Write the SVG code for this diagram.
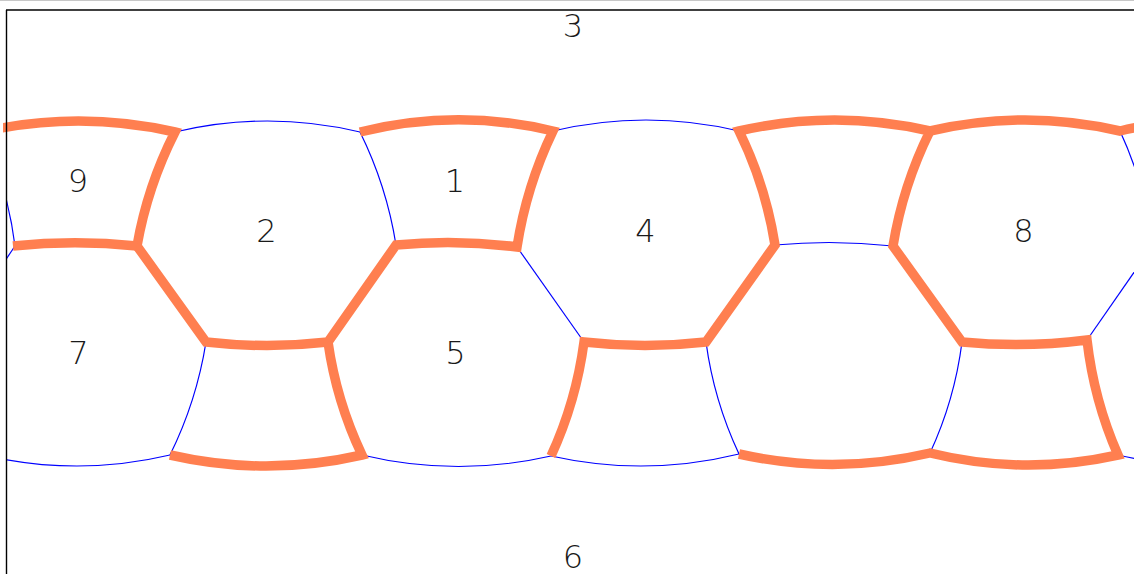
<svg xmlns="http://www.w3.org/2000/svg" width="1134" height="574" viewBox="0 0 1134 574">
<style>
.b{fill:none;stroke:#0000FF;stroke-width:1.2}
.o{fill:none;stroke:#FF7F50;stroke-width:9.5;stroke-linejoin:miter;stroke-linecap:butt}
.lbl{font-family:"DejaVu Sans","Liberation Sans",sans-serif;font-weight:200;font-size:32px;fill:#1a1a1a;text-anchor:middle}
</style>
<defs>
<clipPath id="c7"><rect x="7" y="0" width="1127" height="574"/></clipPath>
<clipPath id="c3"><rect x="3" y="0" width="1131" height="574"/></clipPath>
</defs>
<rect width="1134" height="574" fill="#fff"/>
<line x1="0" y1="0.5" x2="1134" y2="0.5" stroke="#c8c8c8" stroke-width="1"/>
<g id="connectors">
<g id="blue-edges" clip-path="url(#c7)">
<path class="b" d="M175,132 Q267.5,110 360,132"/>
<path class="b" d="M553,131 Q646,109 739,131"/>
<path class="b" d="M-18,132 Q7.5,185.8 15,246"/>
<path class="b" d="M360,132 Q386.6,185.8 396,245"/>
<path class="b" d="M1120,131 Q1145.1,185.3 1153,245"/>
<path class="b" d="M775,245 Q834,239.5 893,246"/>
<path class="b" d="M15,246 L-50,342"/>
<path class="b" d="M517,247 L584,342"/>
<path class="b" d="M1153,245 L1087,340"/>
<path class="b" d="M206,342 Q196.6,401.2 170,455"/>
<path class="b" d="M706,342 Q713.9,400.6 739,454"/>
<path class="b" d="M962,342 Q954.6,400.1 930,453"/>
<path class="b" d="M-16,455 Q77,477 170,455"/>
<path class="b" d="M362,455 Q456.5,477.5 551,456"/>
<path class="b" d="M551,456 Q645,477 739,454"/>
<path class="b" d="M1118,455 Q1211.5,477 1305,455"/>
</g>
<g id="orange-edges-left" clip-path="url(#c3)">
<path class="o" d="M-18,132 Q78.5,110 175,132 Q147.5,186.2 137,246 L206,342 Q267,349 328,342 L396,245 Q456.5,239 517,247 Q526.4,186.3 553,131 Q456.5,108 360,132"/>
</g>
<g id="orange-edges" clip-path="url(#c7)">
<path class="o" d="M13,246 Q75,239.5 137,246"/>
<path class="o" d="M328,342 Q336.4,401.1 362,455 Q266,477 170,455"/>
<path class="o" d="M551,456 Q576.1,401.6 584,342 Q645,349 706,342 L775,245 Q765.6,185.3 739,131 Q834.5,109 930,131 Q902.9,185.7 893,246 L962,342 Q1024.5,348 1087,340 Q1093.9,400.1 1118,455 Q1024,476 930,453 Q834.5,475.5 739,454"/>
<path class="o" d="M930,131 Q1025,109 1120,131 Q1213.5,109 1307,131"/>
</g>
</g>
<g id="frame">
<line x1="6.5" y1="10" x2="6.5" y2="574" stroke="#000" stroke-width="1.4"/>
<line x1="6" y1="10" x2="1134" y2="10" stroke="#000" stroke-width="1.4"/>
</g>
<g id="cell-3"><text class="lbl" x="573" y="36.5">3</text></g>
<g id="cell-6"><text class="lbl" x="573" y="568">6</text></g>
<g id="cell-9"><text class="lbl" x="78" y="192">9</text></g>
<g id="cell-1"><text class="lbl" x="455" y="192">1</text></g>
<g id="cell-2"><text class="lbl" x="266.5" y="242">2</text></g>
<g id="cell-4"><text class="lbl" x="645.5" y="242">4</text></g>
<g id="cell-8"><text class="lbl" x="1023.5" y="242">8</text></g>
<g id="cell-7"><text class="lbl" x="78.5" y="364">7</text></g>
<g id="cell-5"><text class="lbl" x="455.5" y="364">5</text></g>
</svg>
